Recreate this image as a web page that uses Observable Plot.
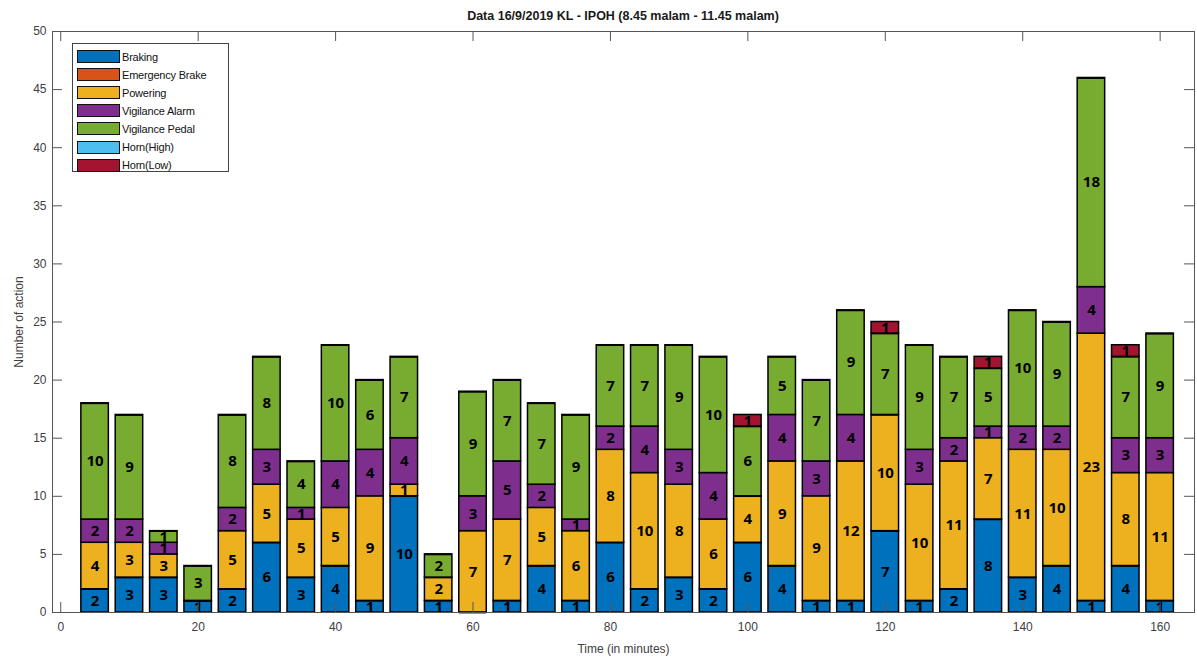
<!DOCTYPE html>
<html>
<head>
<meta charset="utf-8">
<script src="https://cdn.jsdelivr.net/npm/d3@7"></script>
<script src="https://cdn.jsdelivr.net/npm/@observablehq/plot@0.6"></script>
<style>
  html, body { margin: 0; padding: 0; background: #fff; }
  #wrap { position: relative; width: 1197px; height: 658px; font-family: "Liberation Sans", Arial, sans-serif; }
  #title { position: absolute; top: 9px; left: 52px; width: 1142px; text-align: center; font-weight: bold; font-size: 12.5px; color: #1a1a1a; }
  #legend { position: absolute; left: 72px; top: 43px; width: 157px; height: 129px; border: 1px solid #444; background: #fff; box-sizing: border-box; }
  .lrow { position: absolute; left: 4px; height: 13px; display: flex; align-items: center; }
  .lsw { width: 41px; height: 11px; border: 1px solid #111; box-sizing: content-box; }
  .ltx { margin-left: 2px; font-size: 11px; color: #111; white-space: nowrap; letter-spacing: -0.2px; }
</style>
</head>
<body>
<div id="wrap">
  <div id="chart"></div>
  <div id="title"></div>
  <div id="legend"></div>
</div>
<script>
// ---- data ----
const title = "Data 16/9/2019 KL - IPOH (8.45 malam - 11.45 malam)";
const xLabel = "Time (in minutes)";
const yLabel = "Number of action";
const seriesNames = ["Braking", "Emergency Brake", "Powering", "Vigilance Alarm", "Vigilance Pedal", "Horn(High)", "Horn(Low)"];
const seriesColors = ["#0072BD", "#D95319", "#EDB120", "#7E2F8E", "#77AC30", "#4DBEEE", "#A2142F"];
const times = [5,10,15,20,25,30,35,40,45,50,55,60,65,70,75,80,85,90,95,100,105,110,115,120,125,130,135,140,145,150,155,160];
const braking   = [2,3,3,1,2,6,3,4,1,10,1,0,1,4,1,6,2,3,2,6,4,1,1,7,1,2,8,3,4,1,4,1];
const emergency = [0,0,0,0,0,0,0,0,0,0,0,0,0,0,0,0,0,0,0,0,0,0,0,0,0,0,0,0,0,0,0,0];
const powering  = [4,3,2,0,5,5,5,5,9,1,2,7,7,5,6,8,10,8,6,4,9,9,12,10,10,11,7,11,10,23,8,11];
const alarm     = [2,2,1,0,2,3,1,4,4,4,0,3,5,2,1,2,4,3,4,0,4,3,4,0,3,2,1,2,2,4,3,3];
const pedal     = [10,9,1,3,8,8,4,10,6,7,2,9,7,7,9,7,7,9,10,6,5,7,9,7,9,7,5,10,9,18,7,9];
const hornHigh  = [0,0,0,0,0,0,0,0,0,0,0,0,0,0,0,0,0,0,0,0,0,0,0,0,0,0,0,0,0,0,0,0];
const hornLow   = [0,0,0,0,0,0,0,0,0,0,0,0,0,0,0,0,0,0,0,1,0,0,0,1,0,0,1,0,0,0,1,0];
// label printed in the source differs from the drawn segment here
const labelOverrides = [{time: 15, series: "Powering", text: "3"}];
const xTicks = [0,20,40,60,80,100,120,140,160];
const yTicks = [0,5,10,15,20,25,30,35,40,45,50];
const barWidth = 4;

const seriesValues = [braking, emergency, powering, alarm, pedal, hornHigh, hornLow];
const rows = [];
times.forEach((t, i) => {
  let acc = 0;
  seriesNames.forEach((s, k) => {
    const v = seriesValues[k][i];
    const ov = labelOverrides.find(o => o.time === t && o.series === s);
    rows.push({time: t, series: s, value: v, y1: acc, y2: acc + v, label: ov ? ov.text : String(v)});
    acc += v;
  });
});
const nonzero = rows.filter(d => d.value > 0);
const zeros = rows.filter(d => d.value === 0);

const W = 1197, H = 658, mL = 52, mR = 3, mT = 31, mB = 46;
const frameW = W - mL - mR, frameH = H - mT - mB;
const tickLen = 10;
const font = "Liberation Sans, Arial, sans-serif";

const chart = Plot.plot({
  width: W, height: H,
  marginLeft: mL, marginRight: mR, marginTop: mT, marginBottom: mB,
  style: {fontFamily: font, fontSize: "12px", color: "#404040", background: "#fff"},
  x: {domain: [-1.2, 165], ticks: xTicks},
  y: {domain: [0, 50], ticks: yTicks},
  color: {domain: seriesNames, range: seriesColors},
  marks: [
    Plot.rectY(nonzero, {x1: d => d.time - barWidth/2, x2: d => d.time + barWidth/2, y1: "y1", y2: "y2", fill: "series", stroke: "#000", strokeWidth: 1.5}),
    Plot.ruleY(zeros, {x1: d => d.time - barWidth/2, x2: d => d.time + barWidth/2, y: "y1", stroke: "#000", strokeWidth: 1.5}),
    Plot.text(nonzero, {x: "time", y: d => (d.y1 + d.y2) / 2, text: "label", fill: "#000", fontWeight: "bold", fontSize: 15, fontFamily: "Open Sans, sans-serif"}),
    Plot.frame({stroke: "#555", strokeWidth: 1}),
    // inward ticks (MATLAB style) on all four sides
    Plot.tickY(yTicks, {y: d => d, insetRight: frameW - tickLen, stroke: "#555"}),
    Plot.tickY(yTicks, {y: d => d, insetLeft: frameW - tickLen, stroke: "#555"}),
    Plot.tickX(xTicks, {x: d => d, insetTop: frameH - tickLen, stroke: "#555"}),
    Plot.tickX(xTicks, {x: d => d, insetBottom: frameH - tickLen, stroke: "#555"}),
    Plot.axisX(xTicks, {tickSize: 0, tickPadding: 10, label: xLabel, labelAnchor: "center", labelArrow: "none", labelOffset: 40, fill: "#404040"}),
    Plot.axisY(yTicks, {tickSize: 0, tickPadding: 6, label: yLabel, labelAnchor: "center", labelArrow: "none", labelOffset: 38, fill: "#404040"})
  ]
});
document.getElementById("chart").appendChild(chart);

document.getElementById("title").textContent = title;
const leg = document.getElementById("legend");
seriesNames.forEach((s, k) => {
  const r = document.createElement("div");
  r.className = "lrow";
  r.style.top = (6 + k * 18.1) + "px";
  const sw = document.createElement("div");
  sw.className = "lsw";
  sw.style.background = seriesColors[k];
  const tx = document.createElement("div");
  tx.className = "ltx";
  tx.textContent = s;
  tx.style.color = seriesColors[k] === "#000" ? "#000" : "#111";
  r.appendChild(sw); r.appendChild(tx);
  leg.appendChild(r);
});
</script>
</body>
</html>
